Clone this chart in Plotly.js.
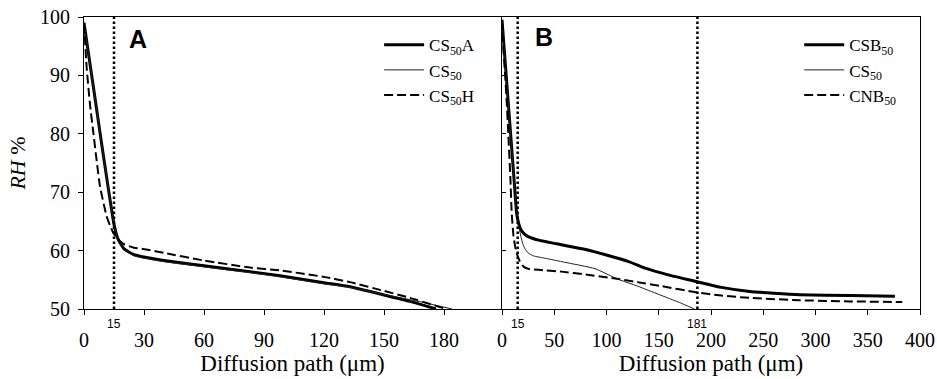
<!DOCTYPE html>
<html>
<head>
<meta charset="utf-8">
<script src="https://cdn.plot.ly/plotly-3.0.1.min.js"></script>
<style>html,body{margin:0;padding:0;background:#fff;}#chart{width:937px;height:379px;}</style>
</head>
<body>
<div id="chart"></div>
<script>
// Panel A data
const aCS50A_x = [0, 2, 5, 8, 12, 15, 17, 20, 25, 30, 40, 60, 83, 98, 120, 133, 150, 163, 176];
const aCS50A_y = [99, 94.3, 87.3, 80.2, 71, 64.5, 62, 60.3, 59.3, 58.9, 58.3, 57.4, 56.4, 55.7, 54.5, 53.8, 52.4, 51.3, 50.0];
const aCS50_x  = [0, 2, 5, 8, 12, 15, 17, 20, 25, 30, 40, 60, 83, 98, 120, 133, 150, 170, 184];
const aCS50_y  = [99, 94.3, 87.3, 80.2, 71, 64.5, 62, 60.2, 59.1, 58.7, 58.1, 57.2, 56.2, 55.5, 54.3, 53.7, 52.5, 51.1, 50.0];
const aCS50H_x = [0, 1.3, 3, 4.7, 8, 11.3, 13, 14.7, 17, 20, 25, 31, 40, 60, 83, 98, 120, 133, 150, 163, 181];
const aCS50H_y = [99, 91.5, 85, 80.1, 71, 65.9, 64.3, 63, 61.9, 61.1, 60.5, 60.2, 59.6, 58.3, 57.1, 56.6, 55.5, 54.6, 53.1, 51.9, 50.0];

// Panel B data
const bCSB50_x = [0, 3, 6, 9, 12, 14, 16, 18, 21, 25, 35, 57, 80, 99, 120, 137, 160, 186, 210, 237, 260, 285, 333, 376];
const bCSB50_y = [99.5, 92.4, 85.3, 78.2, 71.1, 66.4, 64.6, 63.6, 62.9, 62.4, 61.8, 61.0, 60.2, 59.3, 58.2, 57.0, 55.8, 54.7, 53.7, 53.0, 52.7, 52.45, 52.3, 52.2];
const bCS50_x  = [0, 3, 6, 9, 12, 14, 16, 18, 20, 22, 25, 30, 41, 60, 89, 111, 130, 150, 170, 184];
const bCS50_y  = [99.5, 92.4, 85.3, 78.2, 71.1, 66.4, 64.2, 62.5, 61.1, 60.3, 59.6, 59.1, 58.7, 58.0, 56.9, 55.1, 53.9, 52.5, 51.1, 50.0];
const bCNB50_x = [0, 1.5, 2.9, 4.5, 6, 8, 9.3, 11, 12.5, 14, 17, 20.4, 25, 35, 57, 80, 105, 130, 153, 186, 210, 237, 285, 333, 383];
const bCNB50_y = [99.5, 94, 90.4, 85.5, 80.1, 72.5, 66.4, 62.5, 60.8, 59.6, 58.2, 57.3, 56.9, 56.7, 56.4, 55.9, 55.3, 54.6, 53.9, 52.85, 52.3, 51.9, 51.5, 51.3, 51.2];

// Markers and labels
const aMarkX = [15];
const aMarkLabels = ['15'];
const bMarkX = [15, 187];
const bMarkLabels = ['15', '181'];
const aTicks = [0, 30, 60, 90, 120, 150, 180];
const bTicks = [0, 50, 100, 150, 200, 250, 300, 350, 400];
const yTicks = [50, 60, 70, 80, 90, 100];

const serif = 'Liberation Serif, Times New Roman, serif';
const sans = 'Liberation Sans, Arial, sans-serif';

const thick = {color: '#000', width: 3, shape: 'spline', smoothing: 0.5};
const thin = {color: '#222', width: 1, shape: 'spline', smoothing: 0.5};
const dashed = {color: '#000', width: 2, dash: '9px,4px', shape: 'spline', smoothing: 0.5};

const traces = [
  {x: aCS50A_x, y: aCS50A_y, name: 'CS<sub>50</sub>A', line: thick, xaxis: 'x', yaxis: 'y', legend: 'legend'},
  {x: aCS50_x, y: aCS50_y, name: 'CS<sub>50</sub>', line: thin, xaxis: 'x', yaxis: 'y', legend: 'legend'},
  {x: aCS50H_x, y: aCS50H_y, name: 'CS<sub>50</sub>H', line: dashed, xaxis: 'x', yaxis: 'y', legend: 'legend'},
  {x: bCSB50_x, y: bCSB50_y, name: 'CSB<sub>50</sub>', line: thick, xaxis: 'x2', yaxis: 'y2', legend: 'legend2'},
  {x: bCS50_x, y: bCS50_y, name: 'CS<sub>50</sub>', line: thin, xaxis: 'x2', yaxis: 'y2', legend: 'legend2'},
  {x: bCNB50_x, y: bCNB50_y, name: 'CNB<sub>50</sub>', line: dashed, xaxis: 'x2', yaxis: 'y2', legend: 'legend2'}
].map(t => Object.assign({type: 'scatter', mode: 'lines'}, t));

const shapes = [];
const annotations = [];
aMarkX.forEach((v, i) => {
  shapes.push({type: 'line', xref: 'x', yref: 'y', x0: v, x1: v, y0: 50, y1: 100,
    line: {color: '#000', width: 2.5, dash: '2.5px,2.5px'}});
  annotations.push({xref: 'x', yref: 'paper', x: v, y: -0.02, yanchor: 'top', text: aMarkLabels[i],
    showarrow: false, font: {family: sans, size: 12, color: '#000'}});
});
bMarkX.forEach((v, i) => {
  shapes.push({type: 'line', xref: 'x2', yref: 'y2', x0: v, x1: v, y0: 50, y1: 100,
    line: {color: '#000', width: 2.5, dash: '2.5px,2.5px'}});
  annotations.push({xref: 'x2', yref: 'paper', x: v, y: -0.02, yanchor: 'top', text: bMarkLabels[i],
    showarrow: false, font: {family: sans, size: 12, color: '#000'}});
});
annotations.push({xref: 'x', yref: 'y', x: 27, y: 96.3, text: '<b>A</b>', showarrow: false,
  font: {family: sans, size: 25, color: '#000'}});
annotations.push({xref: 'x2', yref: 'y2', x: 40.1, y: 96.6, text: '<b>B</b>', showarrow: false,
  font: {family: sans, size: 25, color: '#000'}});

const axisCommon = {showline: true, linecolor: '#000', linewidth: 1, showgrid: false, zeroline: false,
  tickcolor: '#000', ticklen: 5, tickwidth: 1,
  tickfont: {family: serif, size: 20, color: '#000'}};

const layout = {
  width: 937, height: 379,
  margin: {l: 84, r: 17, t: 17, b: 70},
  paper_bgcolor: '#fff', plot_bgcolor: '#fff',
  showlegend: true,
  xaxis: Object.assign({}, axisCommon, {domain: [0, 0.4988], range: [0, 208.5], tickvals: aTicks,
    ticktext: aTicks.map(String), ticks: 'outside', mirror: true, ticklabelstandoff: 8,
    title: {text: 'Diffusion path (\u03bcm)', font: {family: serif, size: 23, color: '#000'}, standoff: 4}}),
  xaxis2: Object.assign({}, axisCommon, {domain: [0.5, 1], range: [0, 400], tickvals: bTicks,
    ticktext: bTicks.map(String), ticks: 'outside', mirror: true, anchor: 'y2', ticklabelstandoff: 8,
    title: {text: 'Diffusion path (\u03bcm)', font: {family: serif, size: 23, color: '#000'}, standoff: 4}}),
  yaxis: Object.assign({}, axisCommon, {range: [50, 100], tickvals: yTicks, ticktext: yTicks.map(String),
    ticks: 'outside', ticklabelstandoff: 4,
    title: {text: '<i>RH</i> %', font: {family: serif, size: 22, color: '#000'}, standoff: 8}}),
  yaxis2: Object.assign({}, axisCommon, {range: [50, 100], tickvals: yTicks, anchor: 'x2',
    ticks: 'inside', ticklen: 4, showticklabels: false, mirror: true}),
  legend: {x: 0.353, xanchor: 'left', y: 0.965, yanchor: 'top', bgcolor: 'rgba(0,0,0,0)', itemwidth: 40,
    font: {family: serif, size: 17, color: '#000'}, tracegroupgap: 0},
  legend2: {x: 0.8555, xanchor: 'left', y: 0.965, yanchor: 'top', bgcolor: 'rgba(0,0,0,0)', itemwidth: 40,
    font: {family: serif, size: 17, color: '#000'}, tracegroupgap: 0},
  shapes: shapes,
  annotations: annotations
};

Plotly.newPlot('chart', traces, layout, {displayModeBar: false, staticPlot: true});
</script>
</body>
</html>
